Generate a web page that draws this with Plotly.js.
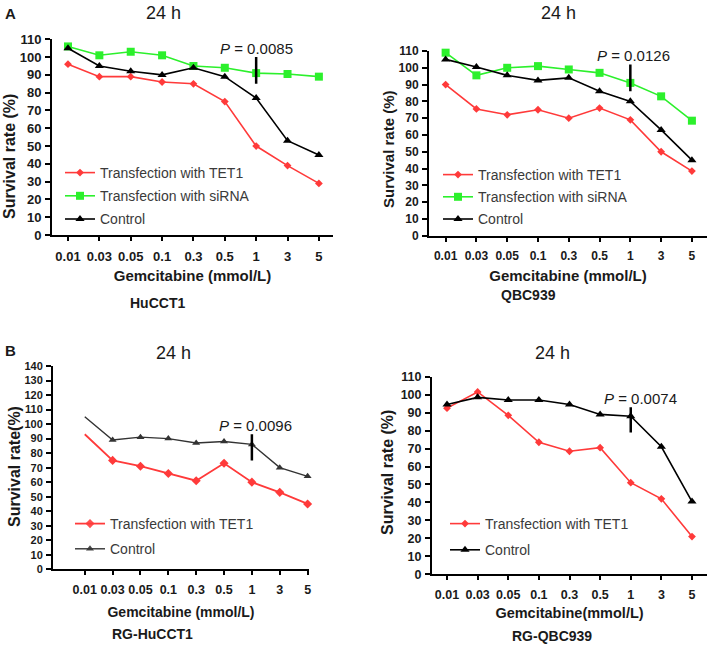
<!DOCTYPE html>
<html>
<head>
<meta charset="utf-8">
<script src="https://cdn.plot.ly/plotly-3.0.1.min.js"></script>
<style>html,body{margin:0;padding:0;background:#fff;}#chart{width:709px;height:645px;}</style>
</head>
<body>
<div id="chart"></div>
<script>
// ---- data ----
const doses = ['0.01','0.03','0.05','0.1','0.3','0.5','1','3','5'];

// Panel A left: HuCCT1
const huTET1    = [96, 89, 89, 86, 85, 75, 50, 39, 29];
const huSiRNA   = [106, 101, 103, 101, 95, 94, 91, 90.5, 89];
const huControl = [105, 95, 92, 90, 94, 89, 77, 53, 45];

// Panel A right: QBC939
const qbTET1    = [90, 75.5, 72, 75, 70, 76, 69, 50, 38.5];
const qbSiRNA   = [109, 95.5, 100, 101, 99, 97, 91, 83, 68.5];
const qbControl = [105, 100.5, 95.5, 92.5, 94, 86, 80, 63, 45];

// Panel B left: RG-HuCCT1
const rghuTET1    = [93, 75, 71, 66, 61, 73, 60, 53, 45];
const rghuControl = [105, 89, 91, 90, 87, 88, 86, 70, 64];

// Panel B right: RG-QBC939
const rgqbTET1    = [92.5, 101.5, 88.5, 73.5, 68.5, 70.5, 51, 42, 21];
const rgqbControl = [94.5, 98.5, 97, 97, 94.5, 89, 88, 71, 40.5];

// P-value markers (dose, low, high, label)
const pDose = '1';
const pBarA1 = [85, 100];  const pTextA1 = '0.0085';
const pBarA2 = [86, 102];  const pTextA2 = '0.0126';
const pBarB1 = [75, 93];   const pTextB1 = '0.0096';
const pBarB2 = [79, 93];   const pTextB2 = '0.0074';

const seriesNames = ['Transfection with TET1', 'Transfection with siRNA', 'Control'];
const panelTitle = '24 h';
const cellLines = ['HuCCT1', 'QBC939', 'RG-HuCCT1', 'RG-QBC939'];
const yTitles = ['Survival rate (%)', 'Survival rate (%)', 'Survival rate(%)', 'Survival rate (%)'];
const xTitles = ['Gemcitabine (mmol/L)', 'Gemcitabine (mmol/L)', 'Gemcitabine (mmol/L)', 'Gemcitabine(mmol/L)'];

// ---- styling ----
const RED = '#ff3a3a', GREEN = '#2cf02c', BLACK = '#000000', DGRAY = '#333333';
const W = 709, H = 645;
const px = v => v / W, py = v => 1 - v / H;
const FONT = 'Liberation Sans, Arial, sans-serif';
const pIndex = doses.indexOf(pDose);

function tr(y, name, color, symbol, size, ax, legend, group, hideFirst, lw) {
  const m = {color: color, symbol: symbol, size: size};
  if (hideFirst) m.opacity = y.map((v, i) => i === 0 ? 0 : 1);
  return {
    x: doses, y: y, name: name, type: 'scatter', mode: 'lines+markers',
    xaxis: ax[0], yaxis: ax[1], legend: legend, legendgroup: group,
    line: {color: color, width: lw || 1.6},
    marker: m,
    cliponaxis: false
  };
}
function bar(vals, ax) {
  return {x: [pDose, pDose], y: vals, type: 'scatter', mode: 'lines',
          xaxis: ax[0], yaxis: ax[1], showlegend: false, hoverinfo: 'skip',
          line: {color: '#000', width: 2.5}, cliponaxis: false};
}

const data = [
  tr(huTET1, seriesNames[0], RED, 'diamond', 6, ['x','y'], 'legend', 'a1', false),
  tr(huSiRNA, seriesNames[1], GREEN, 'square', 8, ['x','y'], 'legend', 'a2', false),
  tr(huControl, seriesNames[2], BLACK, 'triangle-up', 8, ['x','y'], 'legend', 'a3', false),
  bar(pBarA1, ['x','y']),

  tr(qbTET1, seriesNames[0], RED, 'diamond', 6, ['x2','y2'], 'legend2', 'b1', false),
  tr(qbSiRNA, seriesNames[1], GREEN, 'square', 8, ['x2','y2'], 'legend2', 'b2', false),
  tr(qbControl, seriesNames[2], BLACK, 'triangle-up', 8, ['x2','y2'], 'legend2', 'b3', false),
  bar(pBarA2, ['x2','y2']),

  tr(rghuTET1, seriesNames[0], RED, 'diamond', 7, ['x3','y3'], 'legend3', 'c1', true, 1.8),
  tr(rghuControl, seriesNames[2], DGRAY, 'triangle-up', 7, ['x3','y3'], 'legend3', 'c2', true, 1.4),
  bar(pBarB1, ['x3','y3']),

  tr(rgqbTET1, seriesNames[0], RED, 'diamond', 6, ['x4','y4'], 'legend4', 'd1', false),
  tr(rgqbControl, seriesNames[2], BLACK, 'triangle-up', 8, ['x4','y4'], 'legend4', 'd2', false),
  bar(pBarB2, ['x4','y4'])
];

function xax(domain, range, title, tickSize, titleSize, standoff) {
  return {
    domain: domain, range: range, type: 'category',
    categoryorder: 'array', categoryarray: doses,
    showline: true, linecolor: '#000', linewidth: 2,
    ticks: 'outside', ticklen: 4, tickwidth: 2, tickcolor: '#000',
    showgrid: false, zeroline: false, ticklabelstandoff: 4,
    tickfont: {family: FONT, size: tickSize, color: '#1a1a1a', weight: 700},
    title: {text: title, standoff: standoff, font: {family: FONT, size: titleSize, color: '#1a1a1a', weight: 700}}
  };
}
function yax(domain, range, tickSize) {
  return {
    domain: domain, range: range, dtick: 10, tick0: 0,
    showline: true, linecolor: '#000', linewidth: 2,
    ticks: 'outside', ticklen: 5, tickwidth: 2, tickcolor: '#000',
    showgrid: false, zeroline: false, ticklabelstandoff: 1,
    tickfont: {family: FONT, size: tickSize, color: '#1a1a1a', weight: 700}
  };
}

const xa1 = xax([px(52), px(333)], [-0.51, 8.45], xTitles[0], 13, 15, 8); xa1.anchor = 'y';
const xa2 = xax([px(429), px(707)], [-0.54, 8.49], xTitles[1], 12, 15, 8); xa2.anchor = 'y2';
const xa3 = xax([px(53), px(309)], [-1.14, 8.05], xTitles[2], 12.5, 14, 11); xa3.anchor = 'y3';
const xa4 = xax([px(432), px(707)], [-0.49, 8.49], xTitles[3], 12.5, 14.5, 7); xa4.anchor = 'y4';
const ya1 = yax([py(235), py(39.3)], [0, 110], 13); ya1.anchor = 'x';
const ya2 = yax([py(235.7), py(51)], [0, 110], 12); ya2.anchor = 'x2';
const ya3 = yax([py(569.3), py(366)], [0, 140], 11); ya3.anchor = 'x3';
const ya4 = yax([py(574.3), py(376.7)], [0, 110], 12.5); ya4.anchor = 'x4';

function leg(x, y, gap) {
  return {x: px(x), y: py(y), xanchor: 'left', yanchor: 'top',
          bgcolor: 'rgba(0,0,0,0)', borderwidth: 0, tracegroupgap: gap,
          font: {family: FONT, size: 14, color: '#3a3a3a'}, itemwidth: 30};
}

const txt = (text, x, y, size, bold, extra) => Object.assign({
  text: text, xref: 'paper', yref: 'paper', x: px(x), y: py(y),
  xanchor: 'center', yanchor: 'middle', showarrow: false,
  font: {family: FONT, size: size, color: '#1a1a1a', weight: bold ? 700 : 400}
}, extra || {});

const pAnn = (label, bars, xa, ya, xshift) => ({
  text: '<i>P</i> = ' + label, xref: xa, yref: ya, x: pIndex, y: bars[1],
  xanchor: 'center', yanchor: 'bottom', showarrow: false, xshift: xshift, yshift: -2,
  font: {family: FONT, size: 15, color: '#1a1a1a'}
});

const annotations = [
  txt(panelTitle, 163, 13, 18, false),
  txt(panelTitle, 558, 13, 18, false),
  txt(panelTitle, 173, 353, 18, false),
  txt(panelTitle, 552, 353, 18, false),
  txt('A', 10, 13, 15, true),
  txt('B', 10, 350, 15, true),
  txt(cellLines[0], 157, 303, 14, true),
  txt(cellLines[1], 528, 295, 14, true),
  txt(cellLines[2], 152, 634, 14, true),
  txt(cellLines[3], 552, 636, 14, true),
  txt(yTitles[0], 9, 157, 16, true, {textangle: -90}),
  txt(yTitles[1], 388, 149, 15, true, {textangle: -90}),
  txt(yTitles[2], 14, 467, 16, true, {textangle: -90}),
  txt(yTitles[3], 388, 473, 16, true, {textangle: -90}),
  pAnn(pTextA1, pBarA1, 'x', 'y', 0),
  pAnn(pTextA2, pBarA2, 'x2', 'y2', 3),
  pAnn(pTextB1, pBarB1, 'x3', 'y3', 4),
  pAnn(pTextB2, pBarB2, 'x4', 'y4', 10)
];

const layout = {
  width: W, height: H, margin: {l: 0, r: 0, t: 0, b: 0},
  paper_bgcolor: '#fff', plot_bgcolor: 'rgba(0,0,0,0)',
  showlegend: true,
  xaxis: xa1, yaxis: ya1, xaxis2: xa2, yaxis2: ya2,
  xaxis3: xa3, yaxis3: ya3, xaxis4: xa4, yaxis4: ya4,
  legend: leg(60, 157, 2),
  legend2: leg(438, 159, 1),
  legend3: leg(70, 508, 4),
  legend4: leg(445, 508, 5),
  annotations: annotations
};

Plotly.newPlot('chart', data, layout, {displayModeBar: false, staticPlot: true});
</script>
</body>
</html>
